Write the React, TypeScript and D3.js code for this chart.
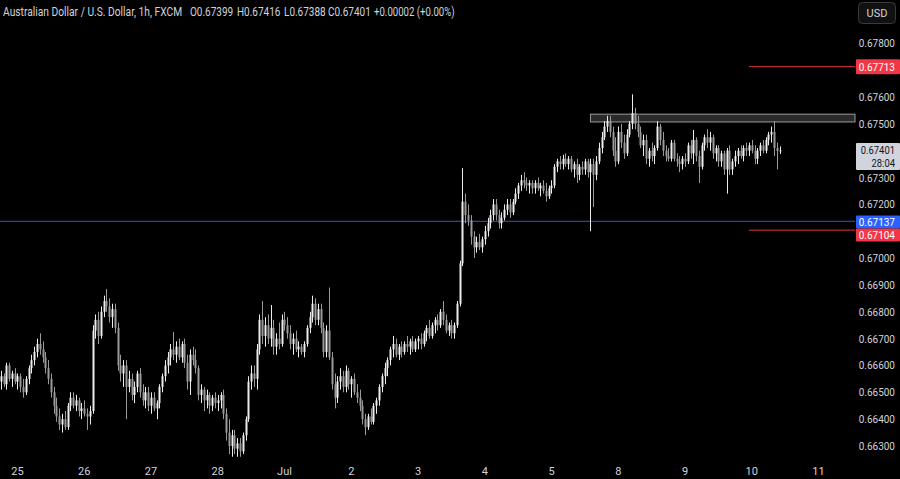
import React from 'react';
import * as d3 from 'd3';

// hourly candles [open, high, low, close], prices in pips (x 0.0001)
type Candle = [number, number, number, number];

const jun24: Candle[] = [
  [6654, 6658, 6651, 6656], [6656, 6657, 6652, 6653], [6653, 6661, 6651, 6660],
  [6660, 6661, 6654, 6655], [6655, 6658, 6652, 6657], [6657, 6659, 6653, 6654],
];
const jun25: Candle[] = [
  [6654, 6657, 6651, 6656], [6656, 6657, 6650, 6652], [6652, 6655, 6648, 6650], [6650, 6656, 6649, 6655],
  [6655, 6660, 6653, 6659], [6659, 6664, 6657, 6662], [6662, 6667, 6660, 6665], [6665, 6670, 6663, 6668],
  [6668, 6672, 6664, 6666], [6666, 6669, 6661, 6663], [6663, 6665, 6657, 6659], [6659, 6662, 6653, 6655],
  [6655, 6657, 6648, 6650], [6650, 6652, 6642, 6645], [6645, 6648, 6639, 6641], [6641, 6644, 6636, 6638],
  [6638, 6642, 6635, 6640], [6640, 6643, 6636, 6637], [6637, 6646, 6636, 6645], [6645, 6650, 6643, 6648],
  [6648, 6650, 6644, 6645], [6645, 6649, 6643, 6647], [6647, 6648, 6641, 6643], [6643, 6646, 6640, 6644],
];
const jun26: Candle[] = [
  [6644, 6647, 6641, 6642], [6642, 6644, 6636, 6641], [6641, 6645, 6638, 6643], [6643, 6675, 6642, 6673],
  [6673, 6679, 6670, 6677], [6677, 6680, 6668, 6671], [6671, 6682, 6670, 6680], [6680, 6686, 6678, 6684],
  [6684, 6688.5, 6680, 6682], [6682, 6685, 6676, 6678], [6678, 6683, 6674, 6681], [6681, 6683, 6672, 6674],
  [6674, 6676, 6658, 6660], [6660, 6664, 6654, 6657], [6657, 6662, 6652, 6660], [6660, 6662, 6640, 6652],
  [6652, 6658, 6650, 6655], [6655, 6657, 6647, 6649], [6649, 6654, 6646, 6652], [6652, 6658, 6650, 6657],
  [6657, 6659, 6648, 6650], [6650, 6653, 6645, 6647], [6647, 6652, 6644, 6650], [6650, 6652, 6643, 6645],
];
const jun27: Candle[] = [
  [6645, 6650, 6642, 6648], [6648, 6650, 6643, 6644], [6644, 6647, 6640, 6646], [6646, 6653, 6644, 6652],
  [6652, 6657, 6650, 6656], [6656, 6662, 6654, 6660], [6660, 6665, 6657, 6663], [6663, 6668, 6660, 6666],
  [6666, 6672.5, 6662, 6664], [6664, 6669, 6661, 6667], [6667, 6670, 6662, 6663], [6663, 6669, 6661, 6668],
  [6668, 6670, 6659, 6661], [6661, 6664, 6651, 6654], [6654, 6666, 6649, 6664], [6664, 6667, 6660, 6662],
  [6662, 6666, 6657, 6659], [6659, 6660, 6647, 6649], [6649, 6653, 6646, 6651], [6651, 6652, 6643, 6647],
  [6647, 6651, 6644, 6649], [6649, 6650, 6642, 6645], [6645, 6649, 6643, 6648], [6648, 6650, 6644, 6646],
];
const jun28: Candle[] = [
  [6646, 6649, 6643, 6647], [6647, 6650, 6644, 6649], [6649, 6651, 6640, 6642], [6642, 6644, 6632, 6635],
  [6635, 6640, 6627, 6630], [6630, 6636, 6626, 6634], [6634, 6636, 6627, 6629], [6629, 6633, 6626, 6631],
  [6631, 6633, 6626, 6628], [6628, 6635, 6627, 6634], [6634, 6641, 6632, 6640], [6640, 6656, 6639, 6654],
  [6654, 6660, 6651, 6657], [6657, 6660, 6652, 6655], [6655, 6668, 6651, 6666], [6666, 6679, 6664, 6677],
  [6677, 6684, 6668, 6671], [6671, 6678, 6667, 6675], [6675, 6679, 6668, 6670], [6670, 6682.5, 6667, 6674],
  [6674, 6677, 6664, 6667], [6667, 6672, 6664, 6670], [6670, 6676, 6666, 6668], [6668, 6679, 6667, 6677],
];
const jul1: Candle[] = [
  [6677, 6680, 6673, 6675], [6675, 6678, 6670, 6672], [6672, 6675, 6666, 6668], [6668, 6672, 6664, 6670],
  [6670, 6673, 6665, 6666], [6666, 6669, 6663, 6667], [6667, 6668, 6664, 6665], [6665, 6669, 6663, 6668],
  [6668, 6675, 6667, 6674], [6674, 6680, 6672, 6678], [6678, 6686, 6676, 6683], [6683, 6685, 6675, 6677],
  [6677, 6683, 6675, 6681], [6681, 6683, 6672, 6674], [6674, 6676, 6663, 6665], [6665, 6675, 6663, 6673],
  [6673, 6689, 6662, 6663], [6663, 6665, 6651, 6653], [6653, 6657, 6644, 6648], [6648, 6656, 6646, 6654],
  [6654, 6659, 6651, 6656], [6656, 6658, 6650, 6652], [6652, 6660, 6650, 6658], [6658, 6659, 6651, 6653],
];
const jul2: Candle[] = [
  [6653, 6656, 6648, 6655], [6655, 6657, 6649, 6650], [6650, 6653, 6646, 6648], [6648, 6651, 6643, 6645],
  [6645, 6647, 6638, 6640], [6640, 6642, 6634, 6637], [6637, 6642, 6636, 6641], [6641, 6644, 6638, 6639],
  [6639, 6646, 6638, 6645], [6645, 6648, 6642, 6647], [6647, 6653, 6645, 6652], [6652, 6657, 6650, 6656],
  [6656, 6661, 6653, 6659], [6659, 6663, 6656, 6662], [6662, 6667, 6660, 6666], [6666, 6671, 6663, 6668],
  [6668, 6670, 6663, 6664], [6664, 6668, 6662, 6667], [6667, 6669, 6663, 6665], [6665, 6669, 6664, 6668],
  [6668, 6671, 6665, 6667], [6667, 6670, 6664, 6669], [6669, 6671, 6665, 6666], [6666, 6670, 6665, 6669],
];
const jul3: Candle[] = [
  [6669, 6671, 6666, 6670], [6670, 6672, 6666, 6668], [6668, 6673, 6667, 6672], [6672, 6675, 6669, 6674],
  [6674, 6677, 6670, 6671], [6671, 6676, 6670, 6675], [6675, 6678, 6672, 6677], [6677, 6679, 6673, 6675],
  [6675, 6681, 6674, 6680], [6680, 6684, 6675, 6677], [6677, 6679, 6672, 6673], [6673, 6676, 6671, 6675],
  [6675, 6677, 6670, 6672], [6672, 6676, 6670, 6675], [6675, 6684, 6674, 6683], [6683, 6699, 6682, 6698],
  [6698, 6733.5, 6697, 6721], [6721, 6724, 6713, 6716], [6716, 6720, 6712, 6714], [6714, 6716, 6705, 6708],
  [6708, 6710, 6700, 6704], [6704, 6708, 6702, 6706], [6706, 6709, 6703, 6704], [6704, 6708, 6702, 6707],
];
const jul4: Candle[] = [
  [6707, 6712, 6705, 6710], [6710, 6715, 6708, 6713], [6713, 6718, 6711, 6716], [6716, 6722, 6714, 6720],
  [6720, 6722, 6714, 6716], [6716, 6718, 6711, 6713], [6713, 6717, 6711, 6715], [6715, 6720, 6714, 6718],
  [6718, 6722, 6716, 6720], [6720, 6722, 6715, 6717], [6717, 6722, 6716, 6721], [6721, 6726, 6720, 6724],
  [6724, 6728, 6722, 6727], [6727, 6731, 6725, 6729], [6729, 6732, 6726, 6728], [6728, 6730, 6725, 6727],
  [6727, 6729, 6724, 6728], [6728, 6729, 6724, 6726], [6726, 6729, 6724, 6728], [6728, 6730, 6725, 6726],
  [6726, 6728, 6723, 6727], [6727, 6729, 6724, 6725], [6725, 6728, 6721, 6723], [6723, 6727, 6722, 6726],
];
const jul5: Candle[] = [
  [6726, 6729, 6724, 6727], [6727, 6735, 6726, 6734], [6734, 6737, 6732, 6736], [6736, 6738, 6733, 6735],
  [6735, 6738.5, 6733, 6737], [6737, 6739, 6734, 6735], [6735, 6738, 6733, 6737], [6737, 6738, 6732, 6733],
  [6733, 6736, 6730, 6735], [6735, 6737, 6728, 6731], [6731, 6735, 6729, 6734], [6734, 6736, 6731, 6733],
  [6733, 6737, 6731, 6736], [6736, 6737, 6730, 6732], [6732, 6737, 6710, 6735], [6735, 6737, 6719, 6731],
  [6731, 6738, 6729, 6736], [6736, 6743, 6735, 6741], [6741, 6747, 6739, 6745], [6745, 6751, 6744, 6749],
  [6749, 6753, 6747, 6751], [6751, 6753, 6745, 6747], [6747, 6749, 6738, 6740], [6740, 6745, 6734, 6736],
];
const jul8: Candle[] = [
  [6736, 6749, 6735, 6747], [6747, 6750, 6741, 6743], [6743, 6746, 6737, 6739], [6739, 6748, 6738, 6746],
  [6746, 6751, 6745, 6750], [6750, 6761, 6748, 6754], [6754, 6756, 6748, 6750], [6750, 6753, 6745, 6747],
  [6747, 6749, 6741, 6742], [6742, 6746, 6738, 6744], [6744, 6746, 6735, 6737], [6737, 6741, 6734, 6740],
  [6740, 6743, 6736, 6738], [6738, 6742, 6735, 6741], [6741, 6751, 6740, 6749], [6749, 6750, 6742, 6744],
  [6744, 6747, 6738, 6740], [6740, 6742, 6736, 6738], [6738, 6741, 6736, 6737], [6737, 6744, 6736, 6743],
  [6743, 6744, 6736, 6737], [6737, 6739, 6734, 6736], [6736, 6738, 6732, 6735], [6735, 6738, 6733, 6737],
];
const jul9: Candle[] = [
  [6737, 6739, 6734, 6736], [6736, 6743, 6735, 6742], [6742, 6744, 6737, 6739], [6739, 6747.7, 6735, 6744],
  [6744, 6745, 6736, 6738], [6738, 6740, 6728, 6734], [6734, 6743, 6733, 6742], [6742, 6746, 6740, 6745],
  [6745, 6748, 6741, 6743], [6743, 6747, 6740, 6745], [6745, 6746, 6737, 6739], [6739, 6742, 6736, 6741],
  [6741, 6742, 6734, 6736], [6736, 6740, 6734, 6739], [6739, 6740, 6731, 6733], [6733, 6741, 6724, 6740],
  [6740, 6742, 6731, 6733], [6733, 6737, 6731, 6736], [6736, 6740, 6734, 6738], [6738, 6741, 6735, 6740],
  [6740, 6742, 6737, 6738], [6738, 6742, 6736, 6741], [6741, 6743, 6738, 6740], [6740, 6743, 6738, 6742],
];
const jul10: Candle[] = [
  [6742, 6744, 6739, 6740], [6740, 6742, 6735, 6737], [6737, 6741, 6735, 6740], [6740, 6743, 6738, 6742],
  [6742, 6744, 6739, 6740], [6740, 6745, 6739, 6744], [6744, 6747, 6742, 6746], [6746, 6749, 6743, 6747],
  [6747, 6751, 6738, 6741], [6741, 6743, 6733, 6739.9], [6739.9, 6741.6, 6738.8, 6740.1],
];

const dayCandles = [jun24, jun25, jun26, jun27, jun28, jul1, jul2, jul3, jul4, jul5, jul8, jul9, jul10];
const dayLabels = ['', '25', '26', '27', '28', 'Jul', '2', '3', '4', '5', '8', '9', '10', '11'];

const priceTicks = [0.663, 0.664, 0.665, 0.666, 0.667, 0.668, 0.669, 0.67, 0.672, 0.673, 0.675, 0.676, 0.678];
const redLevels = [0.67713, 0.67104];
const blueLevel = 0.67137;
const rangeBox = [0.67507, 0.67536];
const rangeBoxStart = 212; // candle index of the Jul 5 spike
const levelStart = 269;
const lastPrice = 0.67401;
const countdown = '28:04';
const header = 'Australian Dollar / U.S. Dollar, 1h, FXCM';
const ohlcText = ['O0.67399', 'H0.67416', 'L0.67388', 'C0.67401', '+0.00002 (+0.00%)'];

const W = 900;
const H = 479;
const plotRight = 855;
const font = 'Roboto, "Liberation Sans", sans-serif';

// header pieces: [left x, horizontal squeeze]
const headerSpans: [number, number][] = [
  [3, 0.82], [190, 0.8], [237, 0.8], [284, 0.8], [328, 0.8], [374, 0.77],
];

export default function App() {
  const candles: { i: number; o: number; h: number; l: number; c: number }[] = [];
  const dayStarts: number[] = [];
  dayCandles.forEach((day) => {
    dayStarts.push(candles.length);
    day.forEach(([o, h, l, c]) => candles.push({ i: candles.length, o: o / 1e4, h: h / 1e4, l: l / 1e4, c: c / 1e4 }));
  });
  dayStarts.push(dayStarts[dayStarts.length - 1] + 24);

  const x = d3.scaleLinear().domain([0, 294]).range([0.8, 818.5]);
  const y = d3.scaleLinear().domain([0.663, 0.678]).range([446, 43.3]);
  const fmt = d3.format('.5f');

  const up = '#ececec';
  const down = '#9a9a9a';

  const axisText = (s: string, yy: number, fill: string, key?: string) => (
    <text key={key} transform={`translate(895,${yy}) scale(0.87,1)`} textAnchor="end" fill={fill} fontSize={11.5}>
      {s}
    </text>
  );

  const tag = (v: number, fill: string, h: number, cy?: number) => {
    const yy = cy ?? y(v);
    return (
      <g key={'tag' + v}>
        <rect x={plotRight + 1} y={yy - h / 2} width={W - plotRight - 1} height={h} fill={fill} rx={1} />
        {axisText(fmt(v), yy + 4, '#ffffff')}
      </g>
    );
  };

  const headerTexts = [header, ...ohlcText];

  return (
    <div style={{ position: 'absolute', left: 0, top: 0 }}>
      <svg width={W} height={H} style={{ display: 'block', background: '#000000', fontFamily: font }}>
        <rect width={W} height={H} fill="#000000" />

        {/* range box */}
        <rect
          x={x(rangeBoxStart)}
          y={y(rangeBox[1])}
          width={plotRight - x(rangeBoxStart)}
          height={y(rangeBox[0]) - y(rangeBox[1])}
          fill="#2a2a2a"
          stroke="#9a9a9a"
          strokeWidth={1}
        />

        {/* levels */}
        <line x1={0} x2={plotRight} y1={y(blueLevel)} y2={y(blueLevel)} stroke="#3b52cc" strokeWidth={1} />
        {redLevels.map((v) => (
          <line key={v} x1={x(levelStart)} x2={plotRight} y1={y(v)} y2={y(v)} stroke="#e5343f" strokeWidth={1} />
        ))}

        {/* candles */}
        {candles.map((d) => {
          const cx = Math.round(x(d.i));
          const col = d.c >= d.o ? up : down;
          const top = y(Math.max(d.o, d.c));
          const bot = y(Math.min(d.o, d.c));
          return (
            <g key={d.i}>
              <line x1={cx + 0.5} x2={cx + 0.5} y1={y(d.h)} y2={y(d.l)} stroke={col} strokeWidth={1} />
              <rect x={cx - 0.5} y={top} width={2} height={Math.max(1, bot - top)} fill={col} />
            </g>
          );
        })}

        {/* price axis */}
        {priceTicks.map((t) => axisText(fmt(t), y(t) + 4, '#d1d4dc', 't' + t))}
        {tag(redLevels[0], '#f23645', 15)}
        {tag(blueLevel, '#2962ff', 13, 222)}
        {tag(redLevels[1], '#f23645', 13, 235)}
        <rect x={plotRight + 1} y={143} width={W - plotRight - 1} height={27} fill="#d1d4dc" rx={1} />
        <g fontSize={10.5}>
          <text transform={`translate(895,154) scale(0.9,1)`} textAnchor="end" fill="#131722">{fmt(lastPrice)}</text>
          <text transform={`translate(895,166.5) scale(0.9,1)`} textAnchor="end" fill="#131722">{countdown}</text>
        </g>

        {/* time axis */}
        {dayLabels.map((lab, k) =>
          lab ? (
            <text key={k} x={x(dayStarts[k])} y={475} textAnchor="middle" fill="#d1d4dc" fontSize={11}>
              {lab}
            </text>
          ) : null
        )}

        {/* header */}
        {headerTexts.map((s, k) => (
          <text key={k} transform={`translate(${headerSpans[k][0]},16) scale(${headerSpans[k][1]},1)`}
            fill="#d1d4dc" fontSize={12.5}>
            {s}
          </text>
        ))}

        {/* currency button */}
        <rect x={858.5} y={2.5} width={37} height={21} rx={4} fill="#111111" stroke="#3a3a3a" />
        <text x={877} y={17} textAnchor="middle" fill="#d1d4dc" fontSize={11}>
          USD
        </text>
      </svg>
    </div>
  );
}
